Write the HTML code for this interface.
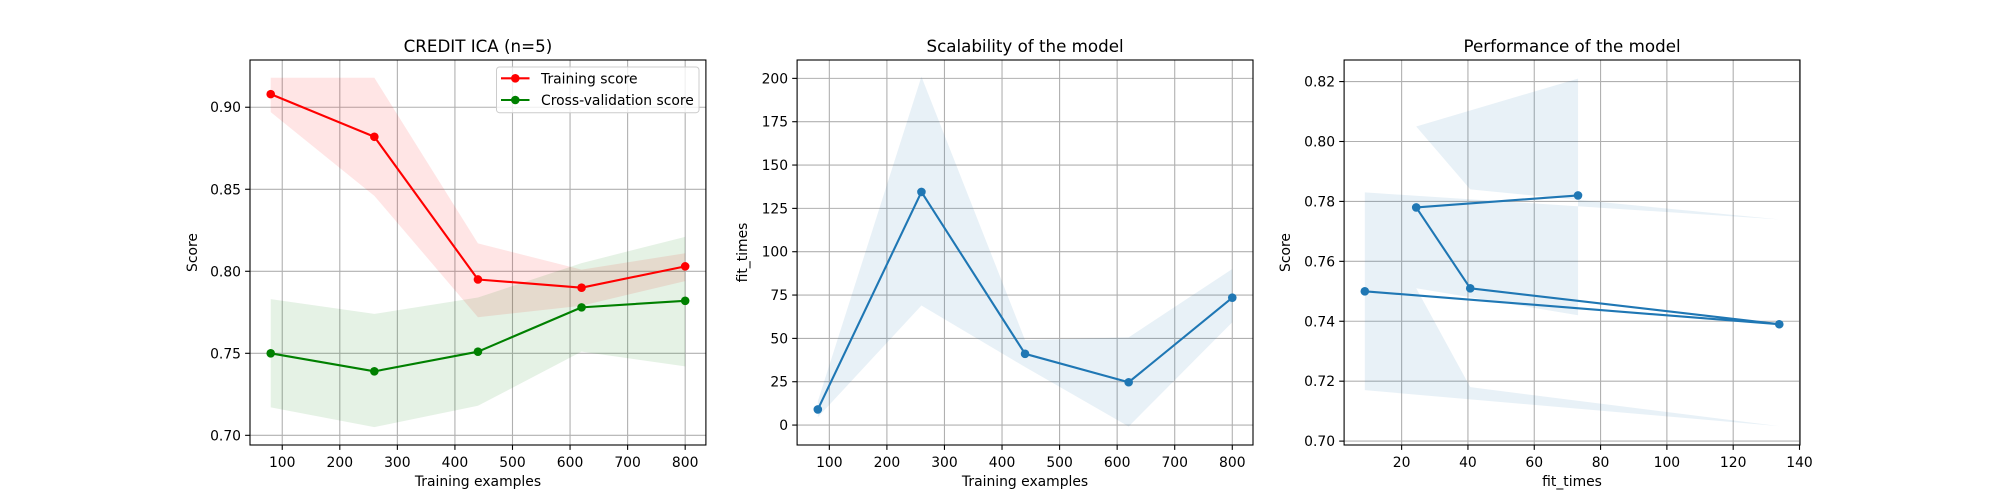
<!DOCTYPE html>
<html><head><meta charset="utf-8"><style>
html,body{margin:0;padding:0;background:#fff;}
svg{display:block;font-family:"DejaVu Sans","Liberation Sans",sans-serif;}
</style></head><body>
<svg id="fig" xmlns="http://www.w3.org/2000/svg" width="2000" height="500" viewBox="0 0 2000 500"></svg>
<script>
const trainSizes = [80, 260, 440, 620, 800];
const trainMean = [0.908, 0.882, 0.795, 0.790, 0.803];
const trainUpper = [0.918, 0.918, 0.817, 0.801, 0.811];
const trainLower = [0.897, 0.846, 0.772, 0.779, 0.794];
const cvMean = [0.750, 0.739, 0.751, 0.778, 0.782];
const cvUpper = [0.783, 0.774, 0.784, 0.805, 0.821];
const cvLower = [0.717, 0.705, 0.718, 0.751, 0.742];
const fitMean = [9.0, 134.5, 41.1, 24.7, 73.5];
const fitUpper = [13.7, 201, 49, 50.6, 90];
const fitLower = [4.5, 69, 33.5, -0.8, 59.3];
const perfFitX = [8.9, 133.9, 40.7, 24.4, 73.2];
const ticks1X = [100, 200, 300, 400, 500, 600, 700, 800];
const ticks1Y = [0.70, 0.75, 0.80, 0.85, 0.90];
const ticks2Y = [0, 25, 50, 75, 100, 125, 150, 175, 200];
const ticks3X = [20, 40, 60, 80, 100, 120, 140];
const ticks3Y = [0.70, 0.72, 0.74, 0.76, 0.78, 0.80, 0.82];

const NS = "http://www.w3.org/2000/svg";
const svg = document.getElementById('fig');
function mk(tag, attrs, parent) {
  const e = document.createElementNS(NS, tag);
  for (const k in attrs) e.setAttribute(k, attrs[k]);
  (parent || svg).appendChild(e);
  return e;
}
const TOP = 60, BOT = 445;
function panel(name, L, R, xmin, xmax, ymin, ymax, xt, yt, ydec, title, xlabel, ylabel, ylabX) {
  const g = mk('g', {});
  
  
  const sx = v => L + (v - xmin) / (xmax - xmin) * (R - L);
  const sy = v => BOT - (v - ymin) / (ymax - ymin) * (BOT - TOP);
  const grid = mk('g', {}, g);
  
  
  xt.forEach(t => {
    const x = sx(t);
    mk('line', {x1: x, x2: x, y1: TOP, y2: BOT, stroke: '#b0b0b0', 'stroke-width': 1.1}, grid);
    mk('line', {x1: x, x2: x, y1: BOT, y2: BOT + 4.9, stroke: '#000', 'stroke-width': 1.1}, g);
    const tx = mk('text', {x: x, y: BOT + 22, 'font-size': 13.9, 'text-anchor': 'middle', fill: '#000'}, g);
    tx.textContent = String(t);
    
    
  });
  yt.forEach(t => {
    const y = sy(t);
    mk('line', {x1: L, x2: R, y1: y, y2: y, stroke: '#b0b0b0', 'stroke-width': 1.1}, grid);
    mk('line', {x1: L - 4.9, x2: L, y1: y, y2: y, stroke: '#000', 'stroke-width': 1.1}, g);
    const tx = mk('text', {x: L - 9, y: y + 5, 'font-size': 13.9, 'text-anchor': 'end', fill: '#000'}, g);
    tx.textContent = t.toFixed(ydec);
    
    
  });
  const tt = mk('text', {x: (L + R) / 2, y: 52, 'font-size': 16.7, 'text-anchor': 'middle', fill: '#000'}, g);
  tt.textContent = title;
  
  
  const xl = mk('text', {x: (L + R) / 2, y: 486, 'font-size': 13.9, 'text-anchor': 'middle', fill: '#000'}, g);
  xl.textContent = xlabel;
  
  
  const yl = mk('text', {x: ylabX, y: (TOP + BOT) / 2, 'font-size': 13.9, 'text-anchor': 'middle', fill: '#000', transform: `rotate(-90 ${ylabX} ${(TOP + BOT) / 2})`}, g);
  yl.textContent = ylabel;
  
  
  return {g, sx, sy, L, R};
}
function band(p, xs, lo, hi, color, name) {
  let pts = xs.map((x, i) => `${p.sx(x)},${p.sy(hi[i])}`);
  for (let i = xs.length - 1; i >= 0; i--) pts.push(`${p.sx(xs[i])},${p.sy(lo[i])}`);
  const e = mk('polygon', {points: pts.join(' '), fill: color, 'fill-opacity': 0.1, stroke: 'none'}, p.g);
  
  
}
function series(p, xs, ys, color, name) {
  const e = mk('polyline', {points: xs.map((x, i) => `${p.sx(x)},${p.sy(ys[i])}`).join(' '), fill: 'none', stroke: color, 'stroke-width': 2.1, 'stroke-linejoin': 'round'}, p.g);
  
  
  xs.forEach((x, i) => {
    const c = mk('circle', {cx: p.sx(x), cy: p.sy(ys[i]), r: 4.3, fill: color}, p.g);
    
    
  });
}
function frame(p) {
  mk('rect', {x: p.L, y: TOP, width: p.R - p.L, height: BOT - TOP, fill: 'none', stroke: '#000', 'stroke-width': 1.1}, p.g);
}

// Panel 1
const p1 = panel('learning-curve-panel', 250, 705.9, 44, 836, 0.6941, 0.9288, ticks1X, ticks1Y, 2, 'CREDIT ICA (n=5)', 'Training examples', 'Score', 197);
band(p1, trainSizes, trainLower, trainUpper, '#ff0000', 'training-score-band');
band(p1, trainSizes, cvLower, cvUpper, '#008000', 'cv-score-band');
series(p1, trainSizes, trainMean, '#ff0000', 'training-score-line');
series(p1, trainSizes, cvMean, '#008000', 'cv-score-line');
frame(p1);
// legend
const lg = mk('g', {}, p1.g);


mk('rect', {x: 496.5, y: 67, width: 202.5, height: 45.7, rx: 3, fill: '#fff', 'fill-opacity': 0.8, stroke: '#cccccc', 'stroke-width': 1}, lg);
[['Training score', '#ff0000', 78.3], ['Cross-validation score', '#008000', 100]].forEach(([t, c, y]) => {
  const e = mk('g', {}, lg);
  
  
  mk('line', {x1: 501, x2: 529.5, y1: y, y2: y, stroke: c, 'stroke-width': 2.1}, e);
  mk('circle', {cx: 515.3, cy: y, r: 4.3, fill: c}, e);
  const tx = mk('text', {x: 541, y: y + 5, 'font-size': 13.9, fill: '#000'}, e);
  tx.textContent = t;
});

// Panel 2
const p2 = panel('scalability-panel', 797.1, 1253, 44, 836, -11.5, 210.6, ticks1X, ticks2Y, 0, 'Scalability of the model', 'Training examples', 'fit_times', 747);
band(p2, trainSizes, fitLower, fitUpper, '#1f77b4', 'fit-times-band');
series(p2, trainSizes, fitMean, '#1f77b4', 'fit-times-line');
frame(p2);

// Panel 3
const p3 = panel('performance-panel', 1344.1, 1800, 2.65, 140.15, 0.6987, 0.8272, ticks3X, ticks3Y, 2, 'Performance of the model', 'fit_times', 'Score', 1290);
band(p3, perfFitX, cvLower, cvUpper, '#1f77b4', 'performance-band');
series(p3, perfFitX, cvMean, '#1f77b4', 'performance-line');
frame(p3);
</script>
</body></html>
